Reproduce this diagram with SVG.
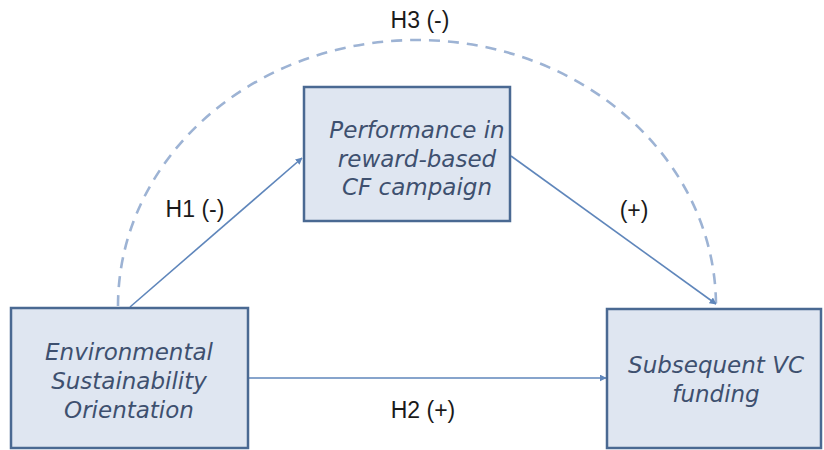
<svg xmlns="http://www.w3.org/2000/svg" width="824" height="450" viewBox="0 0 824 450">
  <style>
    .box { fill: #dfe6f1; stroke: #4a6992; stroke-width: 2.5; }
    .node-text { font-family: "DejaVu Sans", "Liberation Sans", sans-serif; font-style: italic; font-size: 23px; fill: #3e506f; text-anchor: middle; }
    .edge { fill: none; stroke: #5f86bb; stroke-width: 1.6; }
    .dash { fill: none; stroke: #9db3d4; stroke-width: 2.6; stroke-dasharray: 11 8; }
    .label { font-family: "Liberation Sans", Arial, sans-serif; font-size: 23px; fill: #1a1a1a; text-anchor: middle; }
  </style>
  <defs>
    <marker id="arrow" viewBox="0 0 10 10" refX="9" refY="5" markerWidth="7" markerHeight="7" markerUnits="userSpaceOnUse" orient="auto">
      <path d="M0,0 L10,5 L0,10 z" fill="#5f86bb"/>
    </marker>
  </defs>

  <rect width="824" height="450" fill="#ffffff"/>

  <!-- connectors -->
  <g id="connectors">
    <path class="dash" d="M118,306 A299,266 0 0 1 716,306"/>
    <line class="edge" x1="130" y1="307" x2="302" y2="158" marker-end="url(#arrow)"/>
    <line class="edge" x1="511" y1="156" x2="716" y2="304" marker-end="url(#arrow)"/>
    <line class="edge" x1="249" y1="378" x2="606" y2="378" marker-end="url(#arrow)"/>
  </g>

  <!-- connector labels -->
  <g id="labels">
    <text class="label" x="420" y="28">H3 (-)</text>
    <text class="label" x="195" y="217">H1 (-)</text>
    <text class="label" x="634" y="218">(+)</text>
    <text class="label" x="423" y="418">H2 (+)</text>
  </g>

  <g id="node-performance">
    <rect class="box" x="304" y="87" width="206" height="134"/>
    <text class="node-text" x="417" y="138">Performance in</text>
    <text class="node-text" x="417" y="167">reward-based</text>
    <text class="node-text" x="417" y="195">CF campaign</text>
  </g>

  <g id="node-eso">
    <rect class="box" x="11" y="308" width="237" height="140"/>
    <text class="node-text" x="129" y="360">Environmental</text>
    <text class="node-text" x="129" y="389">Sustainability</text>
    <text class="node-text" x="129" y="418">Orientation</text>
  </g>

  <g id="node-vc">
    <rect class="box" x="607" y="309" width="214" height="139"/>
    <text class="node-text" x="716" y="373">Subsequent VC</text>
    <text class="node-text" x="716" y="402">funding</text>
  </g>
</svg>
